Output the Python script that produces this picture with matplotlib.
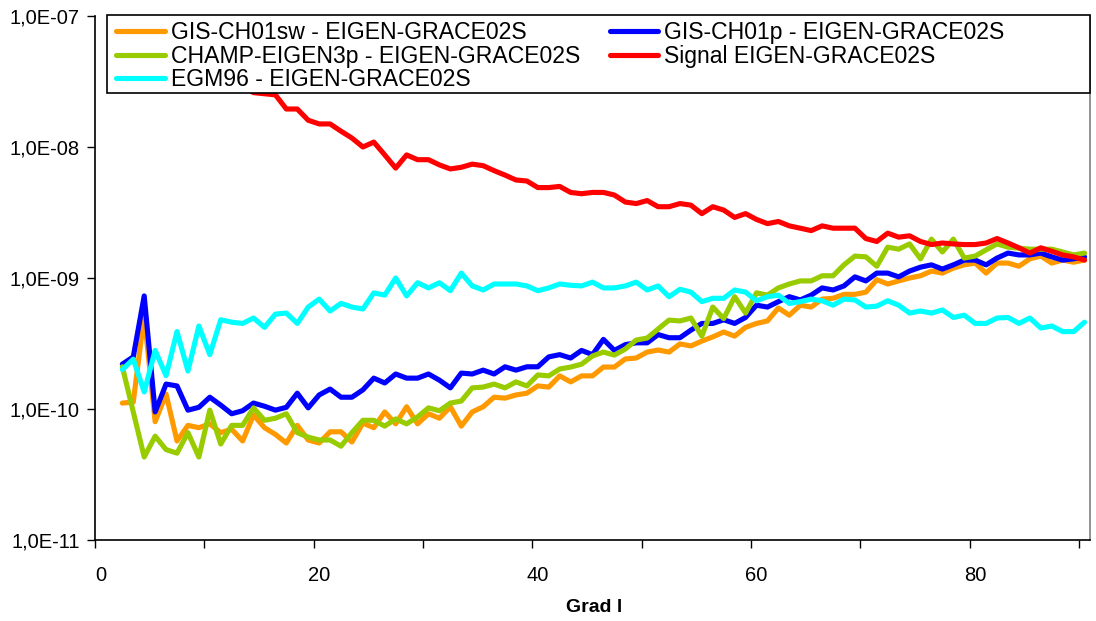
import math
import matplotlib
matplotlib.use("Agg")
import matplotlib.pyplot as plt
from matplotlib.patches import Rectangle
from matplotlib.ticker import FixedLocator, FuncFormatter, NullLocator, NullFormatter

plt.rcParams['font.family'] = ['Liberation Sans', 'DejaVu Sans']

degrees = list(range(2, 91))

gis_ch01sw = [1.11e-10, 1.13e-10, 5.2e-10, 8.0e-11, 1.3e-10, 5.7e-11, 7.5e-11, 7.2e-11, 7.7e-11,
              6.6e-11, 7.0e-11, 5.7e-11, 9.0e-11, 7.2e-11, 6.4e-11, 5.5e-11, 7.5e-11, 5.8e-11, 5.5e-11,
              6.7e-11, 6.7e-11, 5.6e-11, 7.8e-11, 7.2e-11, 9.5e-11, 7.7e-11, 1.04e-10, 7.7e-11, 9.2e-11,
              8.5e-11, 1.04e-10, 7.4e-11, 9.5e-11, 1.04e-10, 1.23e-10, 1.21e-10, 1.28e-10, 1.32e-10, 1.5e-10,
              1.47e-10, 1.79e-10, 1.61e-10, 1.79e-10, 1.79e-10, 2.09e-10, 2.09e-10, 2.41e-10, 2.45e-10, 2.72e-10,
              2.82e-10, 2.72e-10, 3.14e-10, 3.03e-10, 3.3e-10, 3.55e-10, 3.87e-10, 3.6e-10, 4.2e-10, 4.5e-10,
              4.7e-10, 5.9e-10, 5.2e-10, 6.2e-10, 6.0e-10, 6.9e-10, 7.0e-10, 7.5e-10, 7.5e-10, 7.8e-10,
              9.7e-10, 9.0e-10, 9.5e-10, 1.0e-9, 1.04e-9, 1.13e-9, 1.09e-9, 1.19e-9, 1.26e-9, 1.3e-9,
              1.09e-9, 1.3e-9, 1.3e-9, 1.23e-9, 1.4e-9, 1.47e-9, 1.3e-9, 1.37e-9, 1.32e-9, 1.37e-9]

gis_ch01p = [2.2e-10, 2.5e-10, 7.3e-10, 9.5e-11, 1.55e-10, 1.5e-10, 9.8e-11, 1.03e-10, 1.23e-10,
             1.07e-10, 9.2e-11, 9.7e-11, 1.11e-10, 1.05e-10, 9.8e-11, 1.03e-10, 1.32e-10, 1.02e-10, 1.28e-10,
             1.42e-10, 1.23e-10, 1.23e-10, 1.4e-10, 1.72e-10, 1.58e-10, 1.85e-10, 1.72e-10, 1.72e-10, 1.85e-10,
             1.66e-10, 1.45e-10, 1.88e-10, 1.85e-10, 1.98e-10, 1.85e-10, 2.1e-10, 1.98e-10, 2.1e-10, 2.1e-10,
             2.5e-10, 2.6e-10, 2.45e-10, 2.8e-10, 2.6e-10, 3.4e-10, 2.8e-10, 3.1e-10, 3.2e-10, 3.2e-10,
             3.7e-10, 3.5e-10, 3.5e-10, 4.0e-10, 4.5e-10, 4.5e-10, 4.8e-10, 4.5e-10, 5.0e-10, 6.2e-10,
             6.0e-10, 6.6e-10, 7.2e-10, 6.8e-10, 7.4e-10, 8.4e-10, 8.1e-10, 8.7e-10, 1.02e-9, 9.5e-10,
             1.09e-9, 1.09e-9, 1.02e-9, 1.13e-9, 1.21e-9, 1.26e-9, 1.17e-9, 1.26e-9, 1.37e-9, 1.37e-9,
             1.26e-9, 1.42e-9, 1.55e-9, 1.5e-9, 1.5e-9, 1.55e-9, 1.45e-9, 1.37e-9, 1.4e-9, 1.45e-9]

champ_eigen3p = [2.1e-10, 9.5e-11, 4.3e-11, 6.2e-11, 4.9e-11, 4.6e-11, 6.6e-11, 4.3e-11, 9.8e-11,
                 5.4e-11, 7.5e-11, 7.5e-11, 1.02e-10, 8.2e-11, 8.5e-11, 9.2e-11, 6.6e-11, 6.1e-11, 5.8e-11,
                 5.8e-11, 5.2e-11, 6.6e-11, 8.2e-11, 8.2e-11, 7.4e-11, 8.4e-11, 7.7e-11, 8.7e-11, 1.02e-10,
                 9.7e-11, 1.11e-10, 1.15e-10, 1.45e-10, 1.47e-10, 1.55e-10, 1.45e-10, 1.61e-10, 1.5e-10, 1.82e-10,
                 1.79e-10, 2.02e-10, 2.09e-10, 2.2e-10, 2.54e-10, 2.72e-10, 2.58e-10, 2.87e-10, 3.36e-10, 3.48e-10,
                 4.08e-10, 4.77e-10, 4.7e-10, 4.95e-10, 3.6e-10, 6.0e-10, 4.9e-10, 7.2e-10, 5.4e-10, 7.7e-10,
                 7.4e-10, 8.4e-10, 9.0e-10, 9.5e-10, 9.5e-10, 1.04e-9, 1.04e-9, 1.26e-9, 1.47e-9, 1.45e-9,
                 1.23e-9, 1.72e-9, 1.66e-9, 1.82e-9, 1.4e-9, 1.98e-9, 1.58e-9, 1.98e-9, 1.42e-9, 1.47e-9,
                 1.64e-9, 1.82e-9, 1.72e-9, 1.69e-9, 1.66e-9, 1.66e-9, 1.66e-9, 1.58e-9, 1.5e-9, 1.55e-9]

signal = [1.9e-7, 1.32e-7, 1.04e-7, 8.5e-8, 7.2e-8, 6.1e-8, 5.3e-8, 4.6e-8, 4.1e-8,
          3.6e-8, 3.2e-8, 2.9e-8, 2.6e-8, 2.55e-8, 2.5e-8, 1.95e-8, 1.95e-8, 1.6e-8, 1.5e-8,
          1.5e-8, 1.32e-8, 1.17e-8, 1.0e-8, 1.09e-8, 8.7e-9, 6.9e-9, 8.7e-9, 8.0e-9, 8.0e-9,
          7.3e-9, 6.8e-9, 7.0e-9, 7.4e-9, 7.2e-9, 6.6e-9, 6.1e-9, 5.6e-9, 5.5e-9, 4.9e-9,
          4.9e-9, 5.0e-9, 4.5e-9, 4.4e-9, 4.5e-9, 4.5e-9, 4.3e-9, 3.8e-9, 3.7e-9, 3.9e-9,
          3.5e-9, 3.5e-9, 3.7e-9, 3.6e-9, 3.1e-9, 3.5e-9, 3.3e-9, 2.9e-9, 3.1e-9, 2.8e-9,
          2.6e-9, 2.7e-9, 2.5e-9, 2.4e-9, 2.3e-9, 2.5e-9, 2.4e-9, 2.4e-9, 2.4e-9, 2.0e-9,
          1.9e-9, 2.2e-9, 2.05e-9, 2.1e-9, 1.9e-9, 1.8e-9, 1.85e-9, 1.82e-9, 1.8e-9, 1.8e-9,
          1.85e-9, 2.0e-9, 1.85e-9, 1.7e-9, 1.55e-9, 1.7e-9, 1.6e-9, 1.5e-9, 1.45e-9, 1.37e-9]

egm96 = [2.0e-10, 2.4e-10, 1.35e-10, 2.8e-10, 1.8e-10, 3.9e-10, 1.95e-10, 4.3e-10, 2.6e-10,
         4.8e-10, 4.6e-10, 4.5e-10, 4.95e-10, 4.2e-10, 5.3e-10, 5.4e-10, 4.5e-10, 6.0e-10, 6.9e-10,
         5.6e-10, 6.4e-10, 6.0e-10, 5.8e-10, 7.7e-10, 7.4e-10, 1.0e-9, 7.3e-10, 9.2e-10, 8.4e-10,
         9.2e-10, 8.0e-10, 1.09e-9, 8.7e-10, 8.1e-10, 9.0e-10, 9.0e-10, 9.0e-10, 8.7e-10, 8.0e-10,
         8.4e-10, 9.0e-10, 8.8e-10, 8.7e-10, 9.3e-10, 8.4e-10, 8.4e-10, 8.7e-10, 9.3e-10, 8.1e-10,
         8.7e-10, 7.2e-10, 8.2e-10, 7.8e-10, 6.6e-10, 7.0e-10, 7.0e-10, 8.1e-10, 7.8e-10, 6.7e-10,
         7.2e-10, 7.4e-10, 6.4e-10, 6.6e-10, 6.9e-10, 6.7e-10, 6.2e-10, 6.9e-10, 6.8e-10, 6.0e-10,
         6.1e-10, 6.7e-10, 6.2e-10, 5.4e-10, 5.6e-10, 5.4e-10, 5.7e-10, 5.0e-10, 5.2e-10, 4.5e-10,
         4.5e-10, 4.95e-10, 5.0e-10, 4.5e-10, 4.95e-10, 4.15e-10, 4.3e-10, 3.9e-10, 3.9e-10, 4.6e-10]

labels = {
    'sw': 'GIS-CH01sw - EIGEN-GRACE02S',
    'p': 'GIS-CH01p - EIGEN-GRACE02S',
    'champ': 'CHAMP-EIGEN3p - EIGEN-GRACE02S',
    'signal': 'Signal EIGEN-GRACE02S',
    'egm': 'EGM96 - EIGEN-GRACE02S',
}
x_tick_labels = [0, 20, 40, 60, 80]
y_decades = [-11, -10, -9, -8, -7]

fig = plt.figure(figsize=(10.96, 6.21), dpi=100)
ax = fig.add_axes([95 / 1096, 1 - 540 / 621, 995 / 1096, 524 / 621])

lw = 3.7
kw = dict(lw=lw, solid_joinstyle='round', solid_capstyle='round')
h_sw, = ax.plot(degrees, gis_ch01sw, color='#FF9900', label=labels['sw'], zorder=2, **kw)
h_p, = ax.plot(degrees, gis_ch01p, color='#0000FF', label=labels['p'], zorder=3, **kw)
h_ch, = ax.plot(degrees, champ_eigen3p, color='#99CC00', label=labels['champ'], zorder=4, **kw)
h_sig, = ax.plot(degrees, signal, color='#FF0000', label=labels['signal'], zorder=5, **kw)
h_egm, = ax.plot(degrees, egm96, color='#00FFFF', label=labels['egm'], zorder=6, **kw)

ax.set_yscale('log')
ax.set_ylim(1e-11, 1e-7)
ax.set_xlim(-0.5, 90.5)

ax.yaxis.set_major_locator(FixedLocator([10.0 ** e for e in y_decades]))
ax.yaxis.set_minor_locator(NullLocator())
ax.yaxis.set_major_formatter(FuncFormatter(lambda v, p: "1,0E%03d" % round(math.log10(v))))
ax.tick_params(axis='y', which='major', direction='out', length=6, width=1, pad=5,
               labelsize=14.5, color='black')

ax.xaxis.set_major_locator(FixedLocator(x_tick_labels))
ax.xaxis.set_major_formatter(FuncFormatter(lambda v, p: "%d" % v))
ax.xaxis.set_minor_locator(FixedLocator([t - 0.5 for t in range(0, 91, 10)]))
ax.xaxis.set_minor_formatter(NullFormatter())
ax.tick_params(axis='x', which='major', length=0, pad=19, labelsize=14.5)
ax.tick_params(axis='x', which='minor', direction='out', length=6, width=1, color='black')

for s in ['left', 'bottom']:
    ax.spines[s].set_color('black')
    ax.spines[s].set_linewidth(1.2)
ax.spines['right'].set_color('#808080')
ax.spines['right'].set_linewidth(1.2)
ax.spines['top'].set_visible(False)

# legend box
x0 = 12 / 995
y0 = (540 - 93) / 524
ax.add_patch(Rectangle((x0, y0), 1 - x0, 1.002 - y0, transform=ax.transAxes,
                       facecolor='white', edgecolor='black', lw=1.2, zorder=10, clip_on=False))
leg = ax.legend(handles=[h_sw, h_ch, h_egm, h_p, h_sig], ncol=2, loc='upper left',
                bbox_to_anchor=(18 / 995, 0.9963), frameon=False, fontsize=16.6,
                handlelength=2.1, handletextpad=0.25, columnspacing=1.3,
                labelspacing=0.02, borderpad=0.15, borderaxespad=0.0)
leg.set_zorder(11)
for line in leg.get_lines():
    line.set_linewidth(lw)

fig.text(594 / 1096, 1 - 608 / 621, 'Grad l', ha='center', va='center',
         fontsize=14, fontweight='bold')

fig.savefig('out.png', dpi=100)
